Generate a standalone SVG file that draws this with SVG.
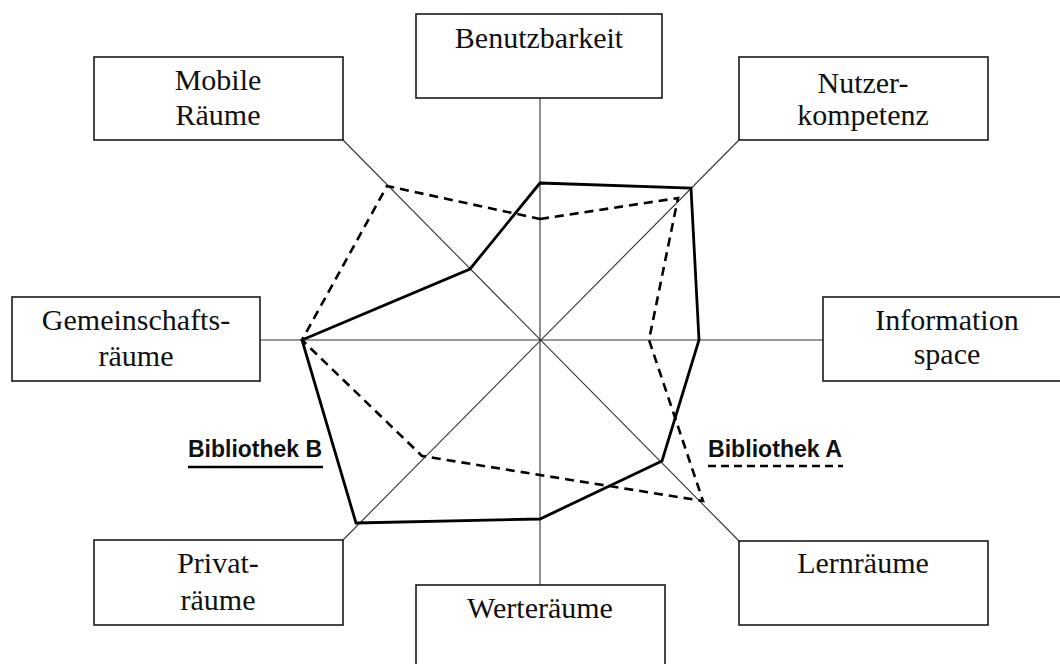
<svg xmlns="http://www.w3.org/2000/svg" width="1060" height="664" viewBox="0 0 1060 664">
  <style>
    .box { fill: #ffffff; stroke: #1a1a1a; stroke-width: 1.6; }
    .lbl { font-family: "Liberation Serif", "DejaVu Serif", serif; font-size: 30px; fill: #111111; text-anchor: middle; }
    .axis { stroke: #333333; stroke-width: 1.1; fill: none; }
    .libB { stroke: #000000; stroke-width: 2.8; fill: none; stroke-linejoin: miter; }
    .libA { stroke: #000000; stroke-width: 2.6; fill: none; stroke-dasharray: 9 6; stroke-linejoin: miter; }
    .key { font-family: "Liberation Sans", "DejaVu Sans", sans-serif; font-size: 24px; font-weight: bold; fill: #111111; }
  </style>

  <!-- axes of the radar chart -->
  <g id="connectors">
    <line class="axis" x1="540" y1="98" x2="540" y2="585"/>
    <line class="axis" x1="260" y1="340" x2="823" y2="340"/>
    <line class="axis" x1="343" y1="140" x2="739" y2="541"/>
    <line class="axis" x1="739" y1="140" x2="343" y2="540"/>
  </g>

  <!-- profile lines -->
  <g id="profiles">
    <polygon id="bibliothek-b" class="libB" points="540,183 691,188 699,340 662,461 540,519 356,523 302,340 470,269"/>
    <polygon id="bibliothek-a" class="libA" points="540,219 678,198 649,340 703,501 540,475 422,456 302,340 387,186"/>
  </g>

  <g id="node-benutzbarkeit">
    <rect class="box" x="416" y="14" width="246" height="84"/>
    <text class="lbl" x="539" y="48">Benutzbarkeit</text>
  </g>

  <g id="node-mobile">
    <rect class="box" x="94" y="57" width="249" height="83"/>
    <text class="lbl" x="218" y="90">Mobile</text>
    <text class="lbl" x="218" y="125">Räume</text>
  </g>

  <g id="node-nutzerkompetenz">
    <rect class="box" x="739" y="57" width="249" height="83"/>
    <text class="lbl" x="863" y="93">Nutzer-</text>
    <text class="lbl" x="863" y="125">kompetenz</text>
  </g>

  <g id="node-gemeinschaft">
    <rect class="box" x="12" y="297" width="248" height="84"/>
    <text class="lbl" x="136" y="330">Gemeinschafts-</text>
    <text class="lbl" x="136" y="366">räume</text>
  </g>

  <g id="node-information">
    <rect class="box" x="823" y="297" width="248" height="84"/>
    <text class="lbl" x="947" y="330">Information</text>
    <text class="lbl" x="947" y="364">space</text>
  </g>

  <g id="node-privat">
    <rect class="box" x="94" y="540" width="249" height="85"/>
    <text class="lbl" x="218" y="573">Privat-</text>
    <text class="lbl" x="218" y="610">räume</text>
  </g>

  <g id="node-werte">
    <rect class="box" x="416" y="585" width="249" height="84"/>
    <text class="lbl" x="540" y="618">Werteräume</text>
  </g>

  <g id="node-lern">
    <rect class="box" x="739" y="541" width="249" height="84"/>
    <text class="lbl" x="863" y="573">Lernräume</text>
  </g>

  <!-- legend -->
  <g id="legend-b">
    <text class="key" x="188" y="457" textLength="134" lengthAdjust="spacingAndGlyphs">Bibliothek B</text>
    <line x1="188" y1="467" x2="323" y2="467" stroke="#000" stroke-width="2.6"/>
  </g>
  <g id="legend-a">
    <text class="key" x="708" y="457" textLength="134" lengthAdjust="spacingAndGlyphs">Bibliothek A</text>
    <line x1="708" y1="466" x2="843" y2="466" stroke="#000" stroke-width="2.6" stroke-dasharray="8 5"/>
  </g>
</svg>
